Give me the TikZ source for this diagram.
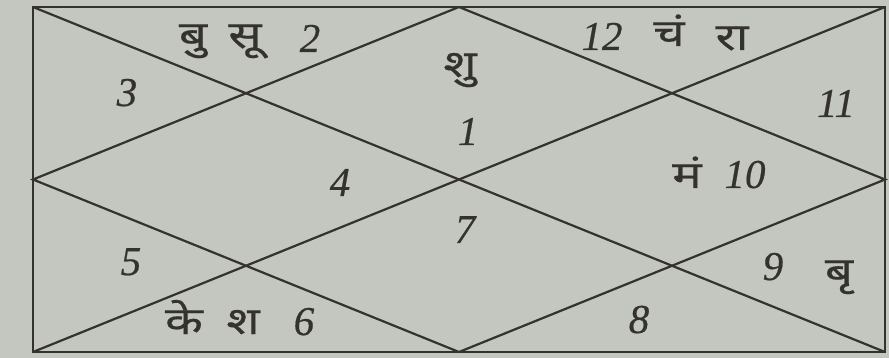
\documentclass[tikz,border=0pt]{standalone}
\usepackage{fontspec}
\setmainfont{Liberation Serif}
\newfontfamily\numf[FakeBold=0.5]{Liberation Serif}
\newfontfamily\deva[Script=Devanagari, FakeStretch=1.3, FakeBold=0.4]{Noto Sans}
\definecolor{paper}{RGB}{196,198,192}
\definecolor{ink}{RGB}{52,50,46}
\begin{document}
\begin{tikzpicture}[x=1pt,y=-1pt,
  num/.style={font=\fontsize{41}{44}\selectfont\numf\itshape, text=ink, inner sep=0pt, anchor=base},
  dev/.style={font=\fontsize{38}{42}\selectfont\deva, text=ink, inner sep=0pt, anchor=base},
  frame/.style={draw=ink, line width=2.2pt, line join=miter}]
\fill[paper] (0,0) rectangle (889,358);
\useasboundingbox (0,0) rectangle (889,358);
% frame points
\coordinate (tl) at (33,7);
\coordinate (tr) at (885,7);
\coordinate (bl) at (33,352);
\coordinate (br) at (885,352);
\coordinate (tm) at (459,7);
\coordinate (bm) at (459,352);
\coordinate (lm) at (33,179.5);
\coordinate (rm) at (885,179.5);
\draw[frame] (tl) rectangle (br);
\draw[frame] (tl) -- (br);
\draw[frame] (tr) -- (bl);
\draw[frame] (tm) -- (rm) -- (bm) -- (lm) -- cycle;
% labels
\node[dev] (bu)  at (193,48) {बु};
\node[dev] (su)  at (245,48) {सू};
\node[num] (h2)  at (310,52) {2};
\node[num] (h3)  at (127,106) {3};
\node[dev] (shu) at (460,77) {शु};
\node[num] (h1)  at (468,145) {1};
\node[num] (h12) at (602,50) {12};
\node[dev] (cha) at (669,46) {चं};
\node[dev] (ra)  at (732,50) {रा};
\node[num] (h11) at (836,117) {11};
\node[num] (h4)  at (340,196) {4};
\node[dev] (ma)  at (687,188) {मं};
\node[num] (h10) at (745,188) {10};
\node[num] (h7)  at (465,243) {7};
\node[num] (h5)  at (131,275) {5};
\node[dev] (ke)  at (184,334) {के};
\node[dev] (sha) at (243,334) {श};
\node[num] (h6)  at (304,335) {6};
\node[num] (h9)  at (773,280) {9};
\node[dev] (bri) at (839,284) {बृ};
\node[num] (h8)  at (639,333) {8};
\end{tikzpicture}
\end{document}
